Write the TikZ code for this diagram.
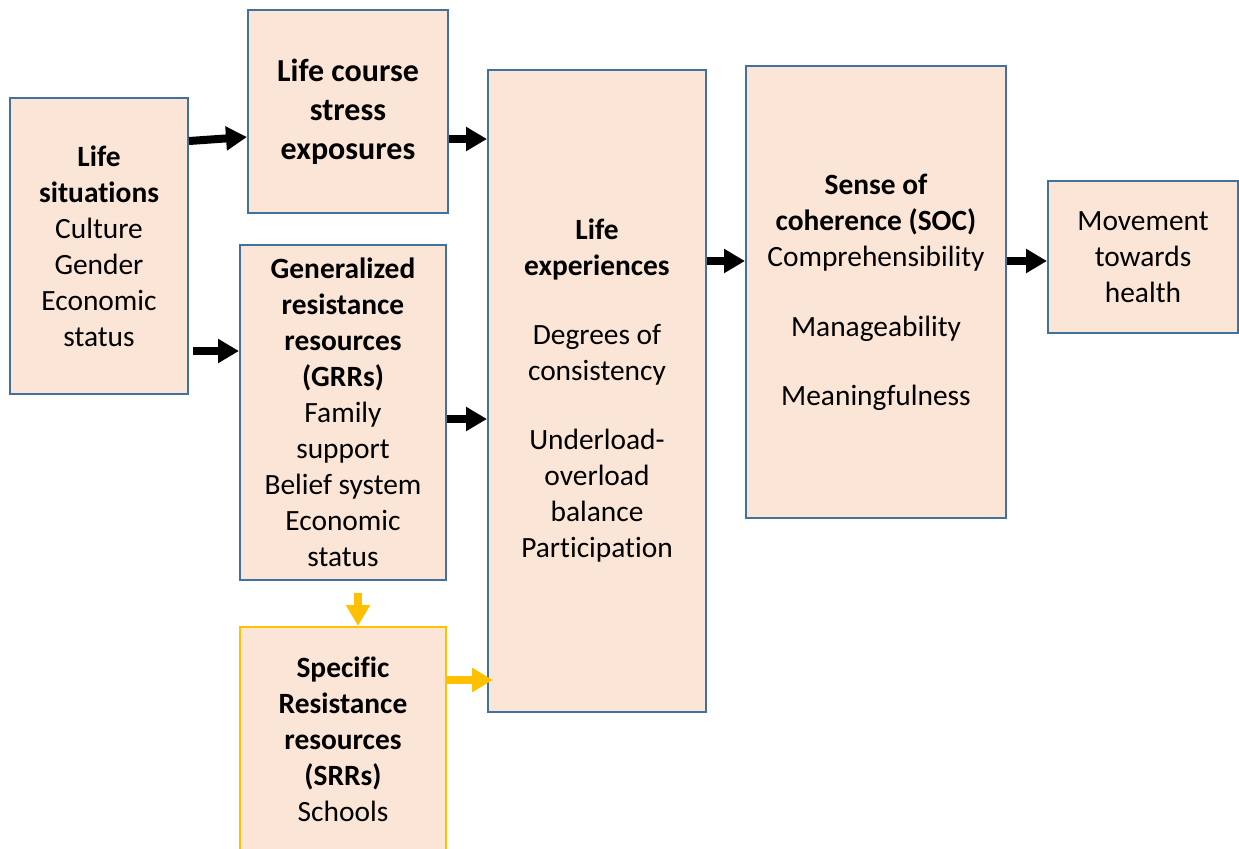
\documentclass[tikz,border=0pt]{standalone}
\usepackage{fontspec}
\setmainfont{Carlito}[Ligatures={NoCommon,NoRequired,NoContextual}]
\usetikzlibrary{arrows.meta}
\definecolor{boxfill}{HTML}{FBE5D6}
\definecolor{boxline}{HTML}{41719C}
\definecolor{srrline}{HTML}{FFC000}

\tikzset{
  box/.style={draw=boxline, line width=1pt, fill=boxfill, align=center, inner sep=0pt,
    font=\fontsize{14.7}{18}\selectfont},
  arr/.style={line width=4pt, -{Triangle[length=10.5pt,width=11.5pt]}},
  yarr/.style={arr, draw=srrline},
}

\begin{document}
\begin{tikzpicture}[x=0.5pt,y=-0.5pt]
\useasboundingbox (0,0) rectangle (1239,848);
\clip (0,0) rectangle (1239,848);

% boxes
\node[box, minimum width=89pt, minimum height=148pt] (ls) at (99,246)
  {\textbf{Life}\\\textbf{situat\kern0pt ions}\\Culture\\Gender\\Economic\\status};
\node[box, minimum width=100pt, minimum height=101.5pt, font=\fontsize{16}{19.5}\selectfont] (lcs) at (348,111.5)
  {\textbf{Life course}\\\textbf{stress}\\\textbf{exposures}};
\node[box, minimum width=103pt, minimum height=167.5pt] (grr) at (343,412.5)
  {\textbf{Generalized}\\\textbf{resistance}\\\textbf{resources}\\\textbf{(GRRs)}\\Family\\support\\Belief system\\Economic\\status};
\node[box, draw=srrline, minimum width=103pt, minimum height=112pt] (srr) at (343,739)
  {\textbf{Specific}\\\textbf{Resistance}\\\textbf{resources}\\\textbf{(SRRs)}\\Schools};
\node[box, minimum width=109pt, minimum height=321pt] (le) at (597,391)
  {\textbf{Life}\\\textbf{experiences}\\[16.5pt]Degrees of\\consistency\\[16.5pt]Underload-\\overload\\balance\\Participation};
\node[box, minimum width=130pt, minimum height=226pt] (soc) at (876,292)
  {\textbf{Sense of}\\\textbf{coherence (SOC)}\\Comprehensibility\\[17pt]Manageability\\[16.5pt]Meaningfulness};
\node[box, minimum width=95pt, minimum height=76pt] (mov) at (1143,257)
  {Movement\\towards\\health};

% arrows
\draw[arr] ([yshift=52.5pt]ls.east) -- ([yshift=-12.75pt]lcs.west);
\draw[arr] ([yshift=-13.75pt]lcs.east) coordinate (p1) -- (p1 -| le.west);
\draw[arr] ([xshift=2pt,yshift=-52.5pt]ls.east) coordinate (p2) -- (p2 -| grr.west);
\draw[arr] ([yshift=-3.25pt]grr.east) coordinate (p3) -- (p3 -| le.west);
\draw[arr] ([yshift=65pt]le.east) coordinate (p4) -- (p4 -| soc.west);
\draw[arr] ([yshift=15.5pt]soc.east) coordinate (p5) -- (p5 -| mov.west);
\draw[yarr] ([xshift=7.5pt,yshift=-6pt]grr.south) coordinate (p6) -- (p6 |- srr.north);
\draw[yarr, shorten >=-3pt] ([yshift=29.5pt]srr.east) coordinate (p7) -- (p7 -| le.west);
\end{tikzpicture}
\end{document}
